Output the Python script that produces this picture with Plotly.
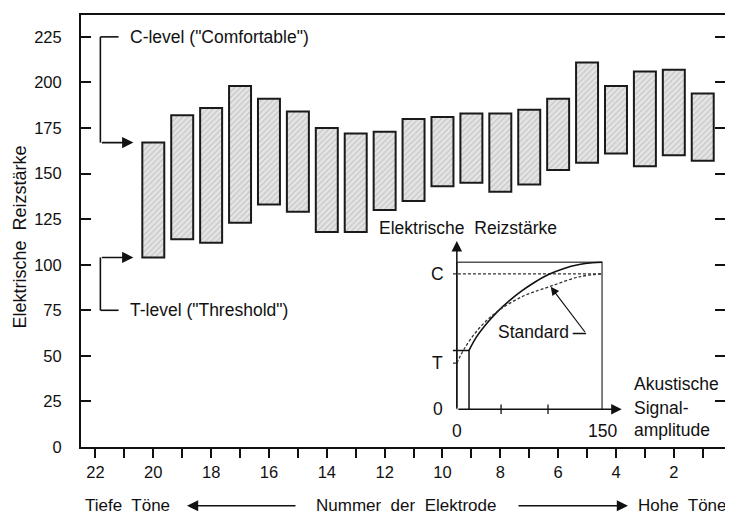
import plotly.graph_objects as go

# ---------------- data (main chart) ----------------
electrodes = [20, 19, 18, 17, 16, 15, 14, 13, 12, 11, 10, 9, 8, 7, 6, 5, 4, 3, 2, 1]
t_level = [104, 114, 112, 123, 133, 129, 118, 118, 130, 135, 143, 145, 140, 144, 152, 156, 161, 154, 160, 157]
c_level = [167, 182, 186, 198, 191, 184, 175, 172, 173, 180, 181, 183, 183, 185, 191, 211, 198, 206, 207, 194]
x_tick_vals = list(range(1, 23))
x_tick_text = [str(v) if v % 2 == 0 else "" for v in x_tick_vals]
y_tick_vals = [0, 25, 50, 75, 100, 125, 150, 175, 200, 225]

# ---------------- data (inset schematic) ----------------
inset_solid_x = [12.6, 20, 30, 41.2, 55, 67.4, 80, 95.2, 110, 126.5, 140, 150]
inset_solid_y = [43.4, 53, 62.5, 71.5, 80.5, 87.5, 93.6, 99.6, 103.8, 106.8, 108.1, 108.5]
inset_std_x = [0, 8, 21.9, 41.2, 67.4, 95.2, 126.5, 150]
inset_std_y = [34, 45, 58.8, 71.8, 83.1, 90.4, 97.8, 100]
inset_C = 100
inset_T_std = 34
inset_T = 43.4
inset_T_x = 12.6
inset_top = 108.5
inset_xmax = 150
inset_ticks = [45.7, 94.2]

FONT = "Liberation Sans, Arial, Helvetica, sans-serif"
BLACK = "#111111"
TS = 17.5

fig = go.Figure()

fig.add_trace(go.Bar(
    x=electrodes,
    y=[c - t for c, t in zip(c_level, t_level)],
    base=t_level,
    width=0.76,
    marker=dict(
        color="#e4e4e4",
        line=dict(color="#1a1a1a", width=2),
        pattern=dict(shape="/", fgcolor="#9a9a9a", bgcolor="#e4e4e4", size=4, solidity=0.25),
    ),
    showlegend=False,
    hoverinfo="skip",
))

# ---------------- inset traces ----------------
line_kw = dict(xaxis="x2", yaxis="y2", mode="lines", showlegend=False, hoverinfo="skip")
fig.add_trace(go.Scatter(x=[0, inset_xmax, inset_xmax], y=[inset_top, inset_top, 0],
                         line=dict(color="#555555", width=1.5), **line_kw))
fig.add_trace(go.Scatter(x=[-4, inset_xmax], y=[inset_C, inset_C],
                         line=dict(color="#333333", width=1.2, dash="3px,2px"), **line_kw))
fig.add_trace(go.Scatter(x=[-4, 0], y=[inset_T_std, inset_T_std],
                         line=dict(color="#333333", width=1.2, dash="3px,2px"), **line_kw))
fig.add_trace(go.Scatter(x=[-4, inset_T_x, inset_T_x], y=[inset_T, inset_T, 0],
                         line=dict(color=BLACK, width=1.5), **line_kw))
fig.add_trace(go.Scatter(x=inset_solid_x, y=inset_solid_y,
                         line=dict(color=BLACK, width=1.6, shape="spline"), **line_kw))
fig.add_trace(go.Scatter(x=inset_std_x, y=inset_std_y,
                         line=dict(color="#333333", width=1.3, dash="3px,2px", shape="spline"), **line_kw))
tx, ty = [], []
for v in inset_ticks:
    tx += [v, v, None]
    ty += [-3.5, 3.5, None]
fig.add_trace(go.Scatter(x=tx, y=ty, line=dict(color=BLACK, width=1.3), **line_kw))
fig.add_trace(go.Scatter(x=[0, 0], y=[0, inset_top], line=dict(color="#555555", width=1.5), **line_kw))

annotations = []

def txt(x, y, s, xref="x", yref="y", xanchor="left", size=TS, **kw):
    annotations.append(dict(x=x, y=y, xref=xref, yref=yref, text=s, showarrow=False,
                            xanchor=xanchor, yanchor="middle",
                            font=dict(family=FONT, size=size, color=BLACK), **kw))

def arrow(x, y, ax, ay, xref="x", yref="y", axref=None, ayref=None, width=1.6):
    d = dict(x=x, y=y, ax=ax, ay=ay, xref=xref, yref=yref, text="", showarrow=True,
             arrowhead=2, arrowsize=1.4, arrowwidth=width, arrowcolor=BLACK)
    if axref:
        d["axref"] = axref
    if ayref:
        d["ayref"] = ayref
    annotations.append(d)

# C-level / T-level brackets
bx, bx2, tip = 21.83, 21.2, 20.69
shapes = []
def seg(x0, y0, x1, y1, xref="x", yref="y", w=1.6, color=BLACK):
    shapes.append(dict(type="line", x0=x0, y0=y0, x1=x1, y1=y1, xref=xref, yref=yref,
                       line=dict(color=color, width=w)))

seg(bx, 225, bx2, 225)
seg(bx, 225, bx, c_level[0])
arrow(tip, c_level[0], bx, c_level[0], axref="x", ayref="y")
txt(20.86, 225, 'C-level ("Comfortable")')
seg(bx, 75, bx2, 75)
seg(bx, 75, bx, t_level[0])
arrow(tip, t_level[0], bx, t_level[0], axref="x", ayref="y")
txt(20.86, 75, 'T-level ("Threshold")')

# y-axis title
annotations.append(dict(x=-0.095, y=0.487, xref="paper", yref="paper", text="Elektrische  Reizstärke",
                        showarrow=False, textangle=-90, xanchor="center", yanchor="middle",
                        font=dict(family=FONT, size=18, color=BLACK)))

# bottom direction labels
by = -0.136
txt(0.003, by, "Tiefe  Töne", xref="paper", yref="paper", size=17)
arrow(0.1646, by, 110, 0, xref="paper", yref="paper")
txt(0.5054, by, "Nummer  der  Elektrode", xref="paper", yref="paper", xanchor="center", size=17)
arrow(0.8494, by, -111, 0, xref="paper", yref="paper")
txt(0.8620, by, "Hohe  Töne", xref="paper", yref="paper", size=17)

# inset axis arrows and labels
arrow(0, 124.3, 0, 0, xref="x2", yref="y2", axref="x2", ayref="y2", width=1.5)
arrow(170.3, 0, 0, 0, xref="x2", yref="y2", axref="x2", ayref="y2", width=1.5)
txt(-82.6, 133.8, "Elektrische  Reizstärke", xref="x2", yref="y2")
txt(-19.8, inset_C, "C", xref="x2", yref="y2", xanchor="center")
txt(-19.8, inset_T_std, "T", xref="x2", yref="y2", xanchor="center")
txt(-19.8, 0, "0", xref="x2", yref="y2", xanchor="center")
txt(0, -16.2, "0", xref="x2", yref="y2", xanchor="center")
txt(150, -16.2, "150", xref="x2", yref="y2", xanchor="center")
txt(181, 18.4, "Akustische", xref="x2", yref="y2")
txt(181, 1, "Signal-", xref="x2", yref="y2")
txt(181, -15.1, "amplitude", xref="x2", yref="y2")
txt(78.7, 56.9, "Standard", xref="x2", yref="y2", xanchor="center")
seg(119.7, 55.9, 133.5, 55.9, xref="x2", yref="y2", w=1.3)
arrow(97, 90.4, 133.5, 55.9, xref="x2", yref="y2", axref="x2", ayref="y2", width=1.2)

fig.update_layout(
    width=725, height=507,
    margin=dict(l=73, r=8, t=5, b=68),
    paper_bgcolor="white", plot_bgcolor="rgba(0,0,0,0)",
    bargap=0.24,
    font=dict(family=FONT, size=16, color=BLACK),
    showlegend=False,
    annotations=annotations,
    shapes=shapes,
    xaxis=dict(range=[22.5, 0.23], tickvals=x_tick_vals, ticktext=x_tick_text,
               ticks="outside", ticklen=9, tickwidth=1.5, tickcolor=BLACK,
               showline=True, linewidth=2, linecolor=BLACK, mirror=True,
               showgrid=False, zeroline=False, tickfont=dict(size=16.5)),
    yaxis=dict(range=[0, 237], tickvals=y_tick_vals, ticks="inside", ticklen=10,
               tickwidth=1.5, tickcolor=BLACK, showline=True, linewidth=2, linecolor=BLACK,
               mirror="ticks", showgrid=False, zeroline=False, tickfont=dict(size=16.5),
               ticklabelstandoff=14),
    xaxis2=dict(domain=[0.4483, 0.9143], range=[-90, 220], anchor="y2", visible=False),
    yaxis2=dict(domain=[0.0092, 0.5263], range=[-25, 140], anchor="x2", visible=False),
)

fig.write_html("out.html")
